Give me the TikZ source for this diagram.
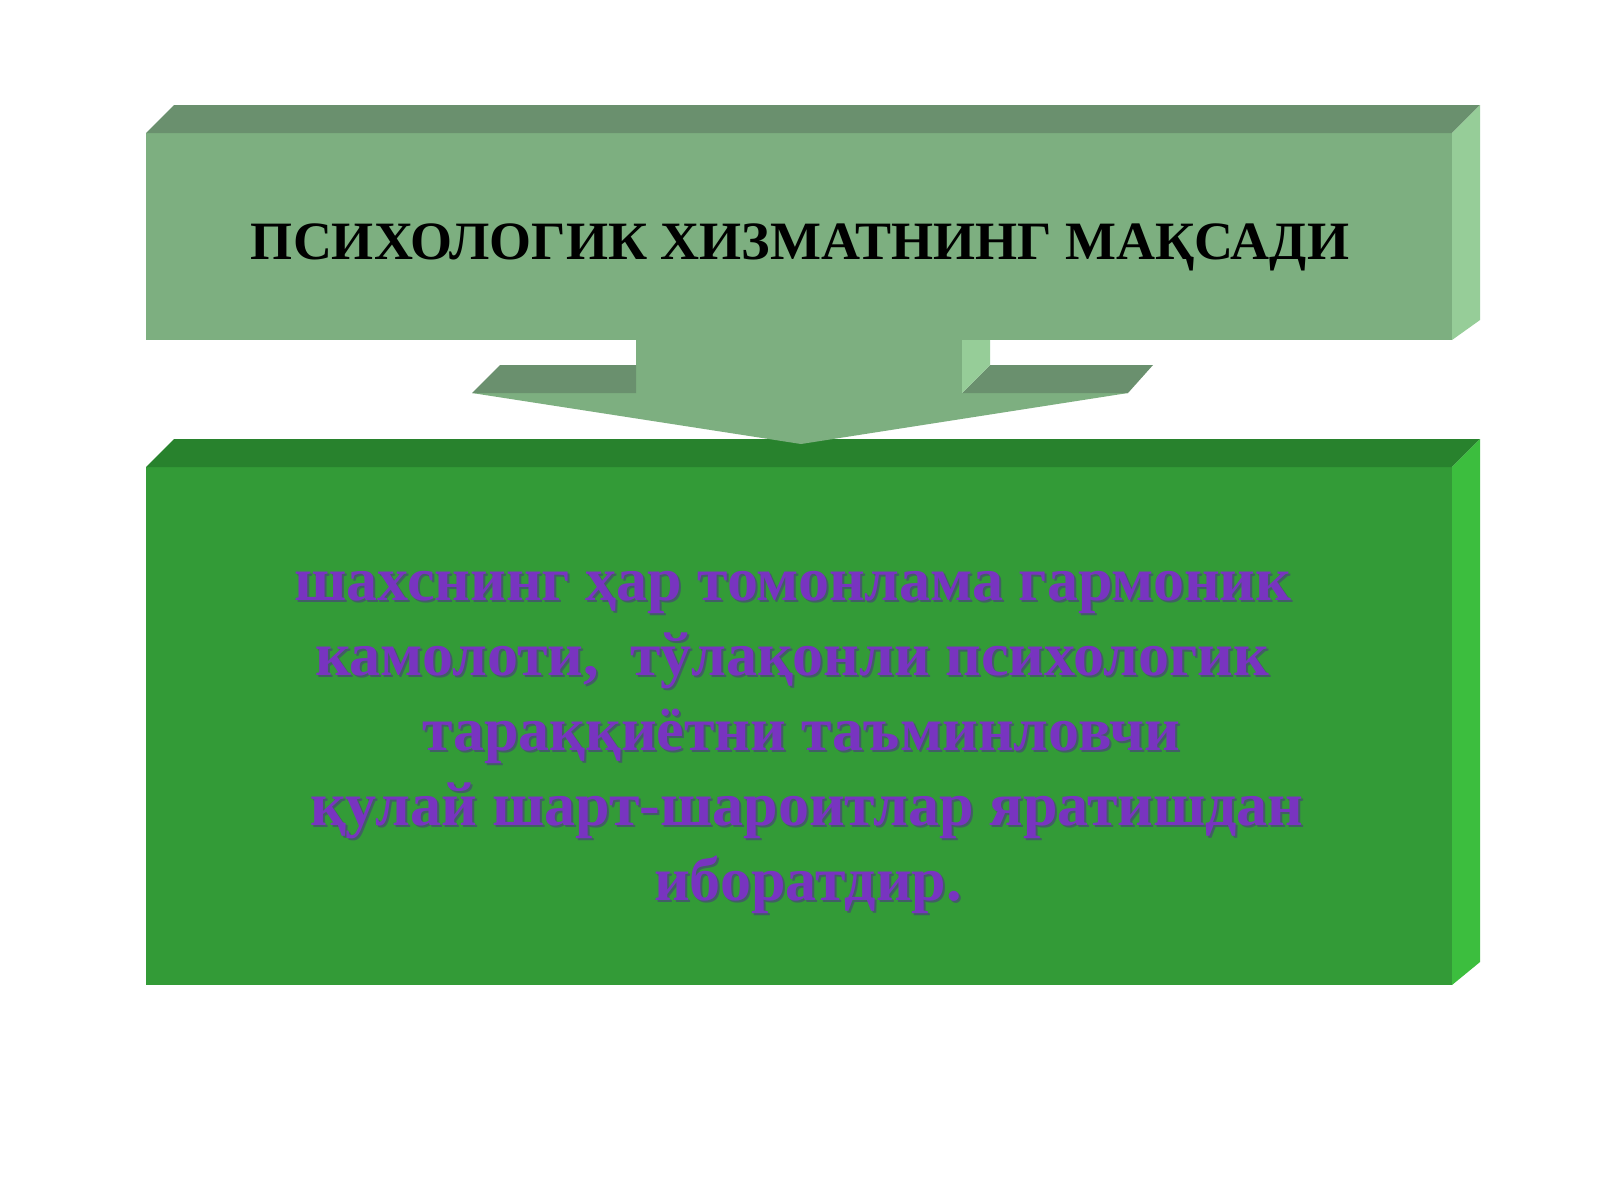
\documentclass[tikz,border=0pt]{standalone}
\usepackage{fontspec}
\setmainfont{Liberation Serif}
\definecolor{tfront}{RGB}{125,175,128}
\definecolor{ttop}{RGB}{106,144,110}
\definecolor{tside}{RGB}{150,205,152}
\definecolor{bfront}{RGB}{51,155,55}
\definecolor{btop}{RGB}{40,130,45}
\definecolor{bside}{RGB}{60,190,62}
\definecolor{purp}{RGB}{120,52,192}
\definecolor{purpshadow}{RGB}{75,55,130}
\tikzset{
  titletext/.style={inner sep=0pt,anchor=base,text=black,font=\fontsize{54}{60}\selectfont\bfseries},
  bodytext/.style={inner sep=0pt,anchor=base,text=purp,font=\fontsize{62}{75}\selectfont\bfseries},
  bodyshadow/.style={bodytext,text=purpshadow,opacity=0.6},
}
\newcommand{\bodyline}[3]{%
  \node[bodyshadow] (#1s) at ([shift={(2,2)}]#2) {#3};
  \node[bodytext] (#1) at (#2) {#3};}
\begin{document}
\begin{tikzpicture}[x=1pt,y=-1pt]
\useasboundingbox[fill=white] (0,0) rectangle (1600,1200);
% top box
\fill[tfront] (146,133) rectangle (1452,340);
\fill[ttop] (146,133) -- (174,105) -- (1480,105) -- (1452,133) -- cycle;
\fill[tside] (1452,133) -- (1480,105) -- (1480,320) -- (1452,340) -- cycle;
% bottom box
\fill[bfront] (146,467) rectangle (1452,985);
\fill[btop] (146,467) -- (174,439) -- (1480,439) -- (1452,467) -- cycle;
\fill[bside] (1452,467) -- (1480,439) -- (1480,962) -- (1452,985) -- cycle;
% arrow
\fill[tfront] (636,338) -- (636,393) -- (472,393) -- (801,444) -- (1128,393) -- (962,393) -- (962,338) -- cycle;
\fill[ttop] (500,365) -- (636,365) -- (636,393) -- (472,393) -- cycle;
\fill[ttop] (990,365) -- (1153,365) -- (1128,393) -- (962,393) -- cycle;
\fill[tside] (962,340) -- (990,340) -- (990,365) -- (962,393) -- cycle;
% texts
\node[titletext] (title) at (800,259) {ПСИХОЛОГИК ХИЗМАТНИНГ МАҚСАДИ};
\bodyline{l1}{793,600}{шахснинг ҳар томонлама гармоник}
\bodyline{l2}{792,675}{камолоти,\ \ тўлақонли психологик}
\bodyline{l3}{801,750}{тараққиётни таъминловчи}
\bodyline{l4}{807,825}{қулай шарт-шароитлар яратишдан}
\bodyline{l5}{808,900}{иборатдир.}
\end{tikzpicture}
\end{document}
